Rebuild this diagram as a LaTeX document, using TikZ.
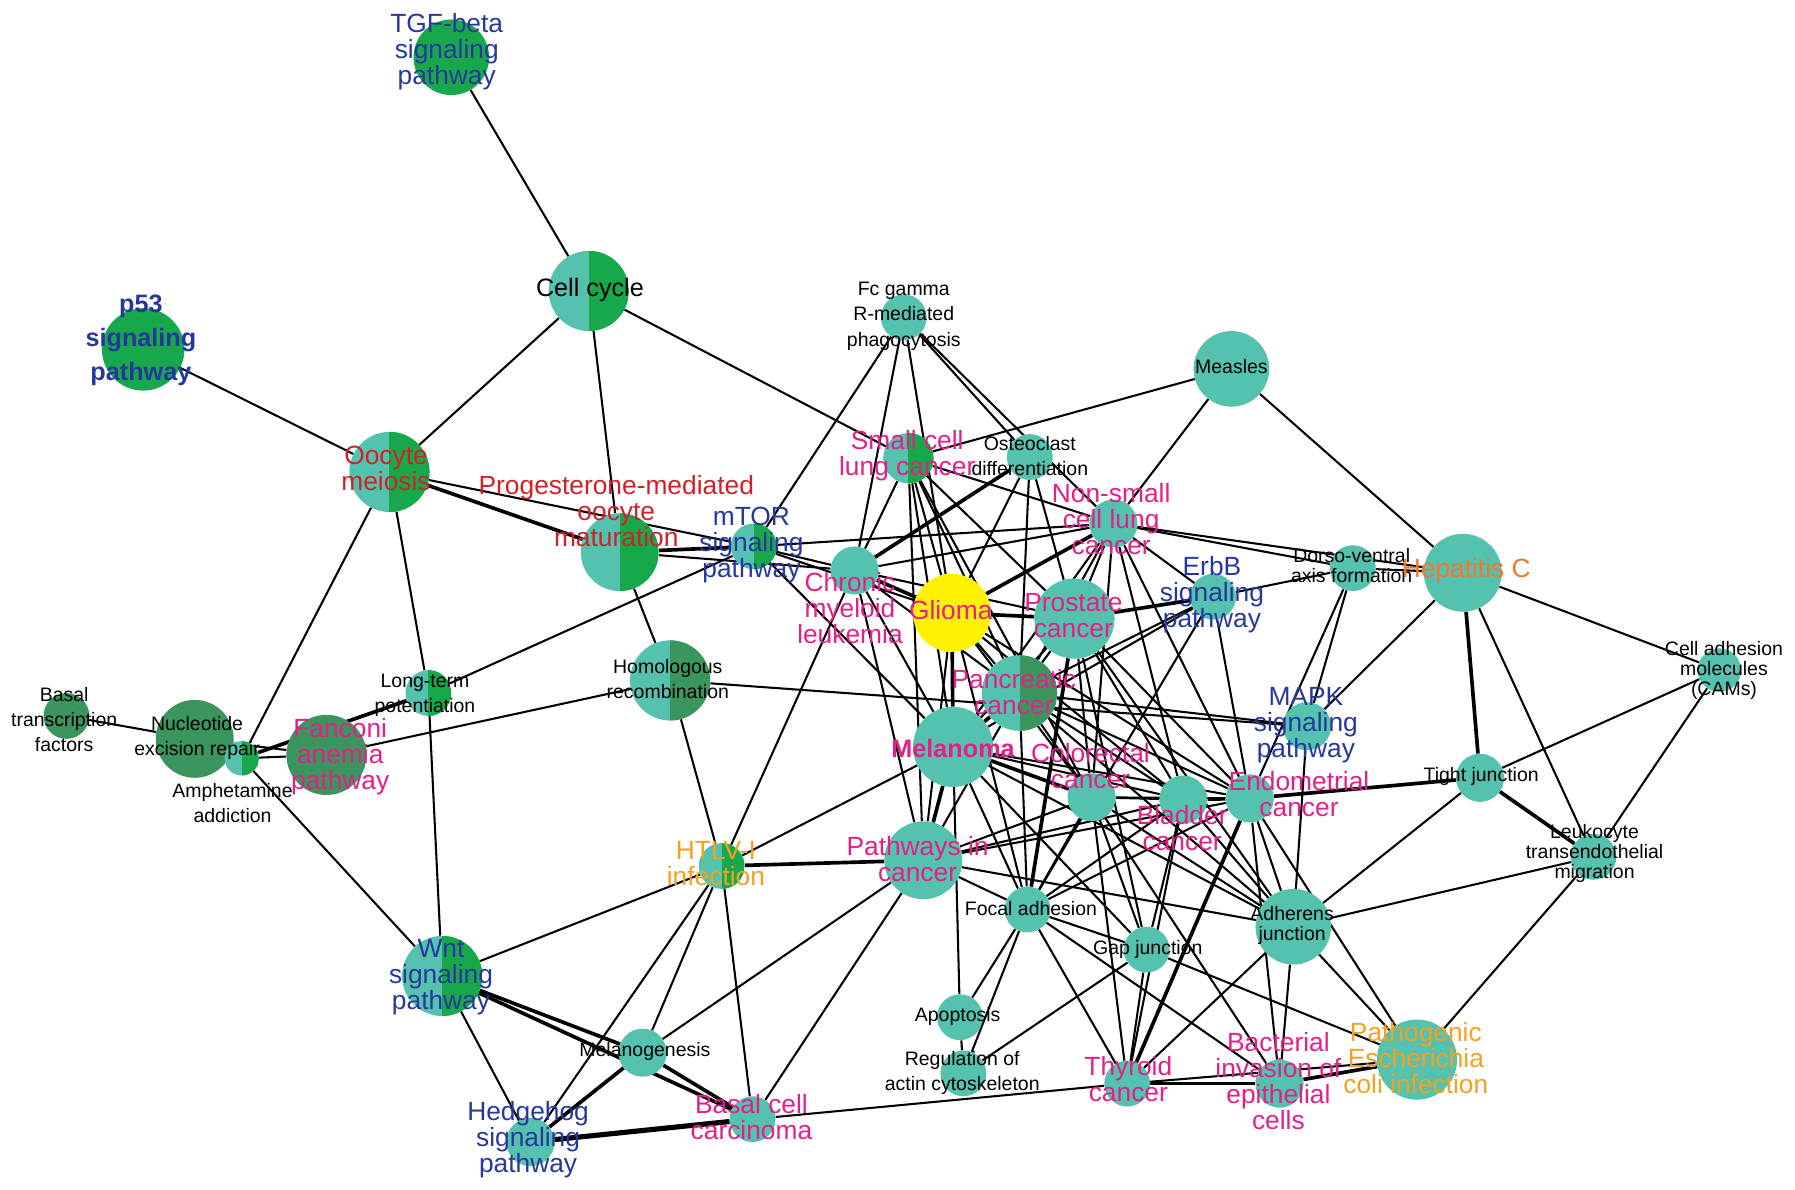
\documentclass[tikz,border=0pt]{standalone}
\usepackage{fontspec}
\setmainfont{Liberation Sans}
\usetikzlibrary{positioning}
\definecolor{nodeteal}{RGB}{84,194,174}
\definecolor{nodegreen}{RGB}{22,168,74}
\definecolor{nodedark}{RGB}{58,150,92}
\definecolor{glioyellow}{RGB}{255,242,0}
\definecolor{txtblue}{RGB}{38,56,156}
\definecolor{txtpink}{RGB}{228,30,138}
\definecolor{txtred}{RGB}{210,32,40}
\definecolor{txtorange}{RGB}{244,160,32}
\definecolor{txthep}{RGB}{240,120,40}
\pgfdeclarelayer{edges}
\pgfsetlayers{edges,main}

\begin{document}
\begin{tikzpicture}[x=1pt,y=-1pt,
    big node/.style={circle,inner sep=0pt,minimum size=70pt,fill=nodeteal},
    small node/.style={circle,inner sep=0pt,minimum size=42pt,fill=nodeteal},
    half/.style={path picture={\fill[#1] (path picture bounding box.north) rectangle (path picture bounding box.south east);}},
    big text/.style={align=center,inner sep=0pt,font=\fontsize{23}{22.7}\selectfont},
    small text/.style={align=center,inner sep=0pt,font=\fontsize{17}{22}\selectfont},
    small tight text/.style={align=center,inner sep=0pt,font=\fontsize{17}{17.5}\selectfont},
    link/.style={-,line width=1.8pt},
    strong link/.style={-,line width=3.2pt},
    heavy link/.style={-,line width=4.5pt}]
  \useasboundingbox (0,0) rectangle (1567,1038);

  % pathway nodes
  \node[big node,fill=nodegreen,minimum size=66pt] (tgf) at (394,50) {};
  \node[big node,fill=nodegreen,minimum size=72pt] (p53) at (125,305) {};
  \node[big node,half=nodegreen] (cc) at (514,254) {};
  \node[big node,half=nodegreen] (oom) at (340,412) {};
  \node[big node,half=nodegreen,minimum size=68pt] (pom) at (541,482) {};
  \node[small node,half=nodegreen,minimum size=40pt] (mtor) at (658,477) {};
  \node[small node,minimum size=40pt] (fcg) at (789,277) {};
  \node[small node,half=nodegreen,minimum size=44pt] (sclc) at (793,400) {};
  \node[small node,minimum size=40pt] (osteo) at (899,399) {};
  \node[big node,minimum size=66pt] (measles) at (1075,322) {};
  \node[small node] (nsclc) at (972,457) {};
  \node[small node] (cml) at (746,498) {};
  \node[big node,fill=glioyellow,minimum size=68pt] (glioma) at (831,535) {};
  \node[big node] (prostate) at (938,540) {};
  \node[small node,minimum size=40pt] (erbb) at (1059,521) {};
  \node[small node,minimum size=40pt] (dorso) at (1181,496) {};
  \node[big node,minimum size=68pt] (hepc) at (1277,500) {};
  \node[small node,minimum size=38pt] (cams) at (1501,585) {};
  \node[big node,half=nodedark] (homrec) at (585,594) {};
  \node[big node,half=nodedark,minimum size=66pt] (panc) at (890,605) {};
  \node[small node] (mapk) at (1141,634) {};
  \node[big node] (melanoma) at (832,652) {};
  \node[small node] (crc) at (953,696) {};
  \node[small node] (bladder) at (1033,698) {};
  \node[small node] (endo) at (1091,697) {};
  \node[small node] (tight) at (1292,679) {};
  \node[small node,minimum size=40pt] (leuko) at (1391,748) {};
  \node[small node,half=nodegreen,minimum size=40pt] (ltp) at (374,605) {};
  \node[small node,fill=nodedark,minimum size=40pt] (btf) at (58,625) {};
  \node[big node,fill=nodedark,minimum size=68pt] (ner) at (170,645) {};
  \node[small node,half=nodegreen,minimum size=30pt] (amph) at (211,662) {};
  \node[big node,fill=nodedark] (fanc) at (285,659) {};
  \node[small node,half=nodegreen,minimum size=40pt] (htlv) at (630,756) {};
  \node[big node,minimum size=68pt] (pic) at (806,751) {};
  \node[small node,minimum size=40pt] (focal) at (897,794) {};
  \node[big node,minimum size=66pt] (adherens) at (1129,809) {};
  \node[small node,minimum size=40pt] (gap) at (1001,829) {};
  \node[big node,half=nodegreen] (wnt) at (386,852) {};
  \node[small node,minimum size=40pt] (apop) at (838,888) {};
  \node[small node,minimum size=40pt] (ract) at (841,937) {};
  \node[small node] (melgen) at (561,919) {};
  \node[small node,minimum size=40pt] (thyroid) at (984,946) {};
  \node[small node] (bact) at (1117,946) {};
  \node[big node] (ecoli) at (1237,925) {};
  \node[small node,minimum size=40pt] (bcc) at (657,977) {};
  \node[small node] (hh) at (463,997) {};

  \begin{pgfonlayer}{edges}
    % outer part
    \path[link] (tgf) edge (cc);
    \path[link] (cc) edge (oom);
    \path[link] (cc) edge (pom);
    \path[link] (cc) edge (sclc);
    \path[link] (p53) edge (oom);
    \path[strong link] (oom) edge (pom);
    \path[link] (oom) edge (mtor);
    \path[link] (oom) edge (amph);
    \path[link] (oom) edge (ltp);
    \path[strong link] (pom) edge (mtor);
    \path[link] (pom) edge (cml);
    \path[link] (pom) edge (homrec);
    \path[link] (ltp) edge (mtor);
    \path[link] (ltp) edge (wnt);
    \path[strong link] (amph) edge (ltp);
    \path[link] (amph) edge (fanc);
    \path[link] (amph) edge (ner);
    \path[link] (amph) edge (wnt);
    \path[link] (ner) edge (btf);
    \path[link] (ner) edge (fanc);
    \path[link] (fanc) edge (homrec);
    \path[link] (homrec) edge (htlv);
    \path[link] (homrec) edge (mapk);
    \path[link] (mtor) edge (fcg);
    \path[link] (mtor) edge (cml);
    \path[link] (mtor) edge (nsclc);
    \path[link] (mtor) edge (glioma);
    \path[link] (mtor) edge (melanoma);
    \path[link] (htlv) edge (cml);
    \path[link] (htlv) edge (wnt);
    \path[link] (htlv) edge (melgen);
    \path[link] (htlv) edge (hh);
    \path[link] (htlv) edge (bcc);
    \path[strong link] (htlv) edge (pic);
    \path[link] (htlv) edge (melanoma);
    \path[strong link] (wnt) edge (melgen);
    \path[strong link] (wnt) edge (bcc);
    \path[link] (wnt) edge (hh);
    \path[strong link] (melgen) edge (hh);
    \path[strong link] (melgen) edge (bcc);
    \path[link] (melgen) edge (pic);
    \path[heavy link] (hh) edge (bcc);
    \path[link] (bcc) edge (pic);
    \path[link] (bcc) edge (thyroid);
    % upper centre
    \path[link] (fcg) edge (cml);
    \path[link] (fcg) edge (glioma);
    \path[link] (fcg) edge (osteo);
    \path[link] (fcg) edge (nsclc);
    \path[link] (sclc) edge (measles);
    \path[link] (sclc) edge (nsclc);
    \path[link] (sclc) edge (cml);
    \path[link] (sclc) edge (glioma);
    \path[link] (sclc) edge (prostate);
    \path[link] (sclc) edge (panc);
    \path[link] (sclc) edge (melanoma);
    \path[link] (sclc) edge (crc);
    \path[link] (sclc) edge (pic);
    \path[strong link] (osteo) edge (cml);
    \path[link] (osteo) edge (glioma);
    \path[link] (osteo) edge (panc);
    \path[link] (osteo) edge (prostate);
    \path[link] (measles) edge (nsclc);
    \path[link] (measles) edge (hepc);
    \path[link] (nsclc) edge (dorso);
    \path[link] (nsclc) edge (hepc);
    \path[link] (nsclc) edge (erbb);
    \path[strong link] (nsclc) edge (glioma);
    \path[link] (nsclc) edge (cml);
    \path[link] (nsclc) edge (prostate);
    \path[link] (nsclc) edge (panc);
    \path[link] (nsclc) edge (melanoma);
    \path[link] (nsclc) edge (crc);
    \path[link] (nsclc) edge (bladder);
    \path[link] (nsclc) edge (endo);
    \path[strong link] (cml) edge (glioma);
    \path[link] (cml) edge (melanoma);
    \path[link] (cml) edge (panc);
    \path[link] (cml) edge (prostate);
    \path[link] (cml) edge (pic);
    \path[strong link] (glioma) edge (prostate);
    \path[link] (glioma) edge (panc);
    \path[strong link] (glioma) edge (melanoma);
    \path[link] (glioma) edge (crc);
    \path[link] (glioma) edge (bladder);
    \path[link] (glioma) edge (endo);
    \path[link] (glioma) edge (focal);
    \path[link] (glioma) edge (pic);
    \path[strong link] (prostate) edge (erbb);
    \path[link] (prostate) edge (panc);
    \path[link] (prostate) edge (melanoma);
    \path[link] (prostate) edge (crc);
    \path[link] (prostate) edge (bladder);
    \path[link] (prostate) edge (endo);
    \path[strong link] (prostate) edge (focal);
    \path[link] (prostate) edge (adherens);
    \path[link] (prostate) edge (gap);
    \path[link] (erbb) edge (dorso);
    \path[link] (erbb) edge (panc);
    \path[link] (erbb) edge (melanoma);
    \path[link] (erbb) edge (focal);
    \path[link] (erbb) edge (endo);
    \path[link] (dorso) edge (hepc);
    \path[link] (dorso) edge (endo);
    \path[link] (dorso) edge (mapk);
    \path[strong link] (hepc) edge (tight);
    \path[link] (hepc) edge (leuko);
    \path[link] (hepc) edge (cams);
    \path[link] (hepc) edge (mapk);
    \path[link] (cams) edge (tight);
    \path[link] (cams) edge (leuko);
    \path[strong link] (tight) edge (endo);
    \path[strong link] (tight) edge (leuko);
    \path[link] (tight) edge (adherens);
    \path[link] (leuko) edge (adherens);
    \path[link] (leuko) edge (ecoli);
    \path[link] (mapk) edge (panc);
    \path[link] (mapk) edge (adherens);
    % lower centre
    \path[strong link] (panc) edge (melanoma);
    \path[link] (panc) edge (crc);
    \path[link] (panc) edge (bladder);
    \path[link] (panc) edge (endo);
    \path[link] (panc) edge (focal);
    \path[link] (panc) edge (adherens);
    \path[link] (panc) edge (pic);
    \path[strong link] (melanoma) edge (pic);
    \path[strong link] (melanoma) edge (crc);
    \path[link] (melanoma) edge (bladder);
    \path[link] (melanoma) edge (endo);
    \path[link] (melanoma) edge (focal);
    \path[link] (melanoma) edge (apop);
    \path[link] (melanoma) edge (adherens);
    \path[link] (melanoma) edge (gap);
    \path[link] (crc) edge (bladder);
    \path[link] (crc) edge (endo);
    \path[link] (crc) edge (pic);
    \path[link] (crc) edge (focal);
    \path[link] (crc) edge (gap);
    \path[link] (crc) edge (thyroid);
    \path[link] (crc) edge (adherens);
    \path[link] (crc) edge (bact);
    \path[strong link] (bladder) edge (endo);
    \path[link] (bladder) edge (pic);
    \path[link] (bladder) edge (focal);
    \path[link] (bladder) edge (gap);
    \path[link] (bladder) edge (thyroid);
    \path[link] (bladder) edge (adherens);
    \path[link] (endo) edge (pic);
    \path[link] (endo) edge (focal);
    \path[link] (endo) edge (adherens);
    \path[strong link] (endo) edge (thyroid);
    \path[link] (endo) edge (bact);
    \path[link] (endo) edge (ecoli);
    \path[link] (pic) edge (focal);
    \path[link] (pic) edge (adherens);
    \path[link] (focal) edge (apop);
    \path[link] (focal) edge (ract);
    \path[link] (focal) edge (gap);
    \path[link] (focal) edge (bact);
    \path[link] (focal) edge (thyroid);
    \path[link] (apop) edge (ract);
    \path[link] (ract) edge (gap);
    \path[link] (gap) edge (thyroid);
    \path[link] (gap) edge (ecoli);
    \path[link] (adherens) edge (ecoli);
    \path[link] (adherens) edge (bact);
    \path[link] (adherens) edge (thyroid);
    \path[strong link] (thyroid) edge (bact);
    \path[link] (thyroid) edge (ecoli);
    \path[strong link] (bact) edge (ecoli);
  \end{pgfonlayer}

  % labels
  \node[big text,text=txtblue] (tgf-t) at (390,45) {TGF-beta\\signaling\\pathway};
  \node[big text,text=txtblue,font=\bfseries\fontsize{22}{30}\selectfont] (p53-t) at (123,297) {p53\\signaling\\pathway};
  \node[big text,font=\fontsize{22}{22}\selectfont] (cc-t) at (515,253) {Cell cycle};
  \node[big text,text=txtred] (oom-t) at (337,409) {Oocyte\\meiosis};
  \node[big text,text=txtred] (pom-t) at (538,446) {Progesterone-mediated\\oocyte\\maturation};
  \node[big text,text=txtblue] (mtor-t) at (656,476) {mTOR\\signaling\\pathway};
  \node[small text] (fcg-t) at (789,276) {Fc gamma\\R-mediated\\phagocytosis};
  \node[big text,text=txtpink] (sclc-t) at (792,398) {Small cell\\lung cancer};
  \node[small text] (osteo-t) at (899,398) {Osteoclast\\differentiation};
  \node[small text] (measles-t) at (1075,320) {Measles};
  \node[big text,text=txtpink] (nsclc-t) at (970,453) {Non-small\\cell lung\\cancer};
  \node[big text,text=txtpink] (cml-t) at (742,531) {Chronic\\myeloid\\leukemia};
  \node[big text,text=txtpink] (glioma-t) at (830,533) {Glioma};
  \node[big text,text=txtpink] (prostate-t) at (937,537) {Prostate\\cancer};
  \node[big text,text=txtblue] (erbb-t) at (1058,519) {ErbB\\signaling\\pathway};
  \node[small tight text] (dorso-t) at (1180,494) {Dorso-ventral\\axis formation};
  \node[big text,text=txthep] (hepc-t) at (1280,498) {Hepatitis C};
  \node[small tight text] (cams-t) at (1505,585) {Cell adhesion\\molecules\\(CAMs)};
  \node[small text] (homrec-t) at (583,593) {Homologous\\recombination};
  \node[big text,text=txtpink] (panc-t) at (885,604) {Pancreatic\\cancer};
  \node[big text,text=txtblue] (mapk-t) at (1140,633) {MAPK\\signaling\\pathway};
  \node[big text,text=txtpink,font=\bfseries\fontsize{22}{22}\selectfont] (melanoma-t) at (832,653) {Melanoma};
  \node[big text,text=txtpink] (crc-t) at (952,669) {Colorectal\\cancer};
  \node[big text,text=txtpink] (bladder-t) at (1032,723) {Bladder\\cancer};
  \node[big text,text=txtpink] (endo-t) at (1134,693) {Endometrial\\cancer};
  \node[small text] (tight-t) at (1293,678) {Tight junction};
  \node[small tight text] (leuko-t) at (1392,745) {Leukocyte\\transendothelial\\migration};
  \node[small text] (ltp-t) at (371,607) {Long-term\\potentiation};
  \node[small text] (btf-t) at (56,628) {Basal\\transcription\\factors};
  \node[small text] (ner-t) at (172,644) {Nucleotide\\excision repair};
  \node[small text] (amph-t) at (203,701) {Amphetamine\\addiction};
  \node[big text,text=txtpink] (fanc-t) at (297,661) {Fanconi\\anemia\\pathway};
  \node[big text,text=txtorange] (htlv-t) at (625,754) {HTLV-I\\infection};
  \node[big text,text=txtpink] (pic-t) at (801,750) {Pathways in\\cancer};
  \node[small text] (focal-t) at (900,793) {Focal adhesion};
  \node[small tight text] (adherens-t) at (1128,808) {Adherens\\junction};
  \node[small text] (gap-t) at (1002,829) {Gap junction};
  \node[big text,text=txtblue] (wnt-t) at (385,853) {Wnt\\signaling\\pathway};
  \node[small text] (apop-t) at (836,887) {Apoptosis};
  \node[small text] (ract-t) at (840,937) {Regulation of\\actin cytoskeleton};
  \node[small text] (melgen-t) at (563,918) {Melanogenesis};
  \node[big text,text=txtpink] (thyroid-t) at (985,942) {Thyroid\\cancer};
  \node[big text,text=txtpink] (bact-t) at (1116,944) {Bacterial\\invasion of\\epithelial\\cells};
  \node[big text,text=txtorange] (ecoli-t) at (1236,924) {Pathogenic\\Escherichia\\coli infection};
  \node[big text,text=txtpink] (bcc-t) at (656,975) {Basal cell\\carcinoma};
  \node[big text,text=txtblue] (hh-t) at (461,995) {Hedgehog\\signaling\\pathway};
\end{tikzpicture}
\end{document}
